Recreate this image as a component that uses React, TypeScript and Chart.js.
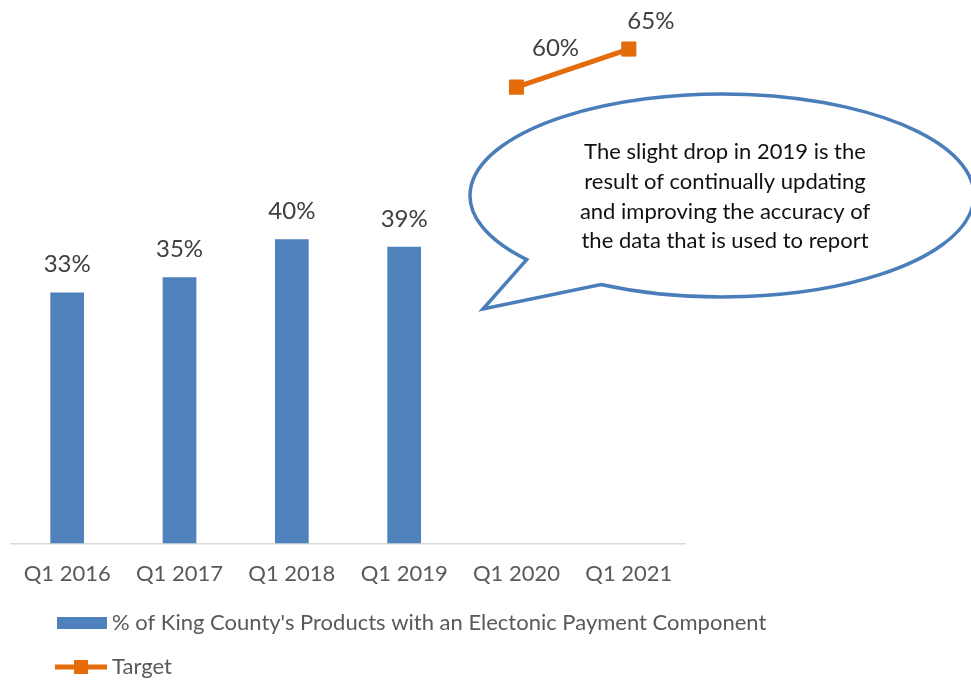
import React, { useEffect, useRef } from "react";
import { Chart, registerables } from "chart.js";

Chart.register(...registerables);

const categories = ["Q1 2016", "Q1 2017", "Q1 2018", "Q1 2019", "Q1 2020", "Q1 2021"];
const productValues = [33, 35, 40, 39, null, null];
const targetValues = [null, null, null, null, 60, 65];
const seriesNames = ["% of King County's Products with an Electonic Payment Component", "Target"];
const calloutLines = [
  "The slight drop in 2019 is the",
  "result of continually updating",
  "and improving the accuracy of",
  "the data that is used to report",
];

const BLUE = "#4F81BD";
const ORANGE = "#E46C0A";
const FONT = "Lato, 'Open Sans', sans-serif";

const overlayPlugin = {
  id: "overlay",
  afterDatasetsDraw(chart: any) {
    const ctx = chart.ctx as CanvasRenderingContext2D;
    ctx.save();
    // data labels
    ctx.font = `24px ${FONT}`;
    ctx.fillStyle = "#404040";
    ctx.textAlign = "center";
    ctx.textBaseline = "middle";
    const barMeta = chart.getDatasetMeta(0);
    barMeta.data.forEach((el: any, i: number) => {
      const v = productValues[i];
      if (v == null) return;
      ctx.fillText(`${v}%`, el.x, el.y - 28);
    });
    const lineMeta = chart.getDatasetMeta(1);
    const lineOffsets = [[0, 0], [0, 0], [0, 0], [0, 0], [39, -39], [22, -28]];
    lineMeta.data.forEach((el: any, i: number) => {
      const v = targetValues[i];
      if (v == null) return;
      ctx.fillText(`${v}%`, el.x + lineOffsets[i][0], el.y + lineOffsets[i][1]);
    });

    // legend
    ctx.textAlign = "left";
    ctx.font = `22px ${FONT}`;
    ctx.fillStyle = BLUE;
    ctx.fillRect(57, 617, 50, 12);
    ctx.fillStyle = "#595959";
    ctx.fillText(seriesNames[0], 112, 623);
    ctx.strokeStyle = ORANGE;
    ctx.lineWidth = 5;
    ctx.beginPath();
    ctx.moveTo(55, 667);
    ctx.lineTo(107, 667);
    ctx.stroke();
    ctx.fillStyle = ORANGE;
    ctx.fillRect(74, 660, 14, 14);
    ctx.fillStyle = "#595959";
    ctx.fillText(seriesNames[1], 112, 667);

    // callout bubble
    const cx = 722, cy = 195.5, rx = 252, ry = 101.5;
    const t1 = (140.8 * Math.PI) / 180;
    const t2 = (118.7 * Math.PI) / 180;
    ctx.beginPath();
    ctx.ellipse(cx, cy, rx, ry, 0, t1, t2, false);
    ctx.lineTo(483, 309);
    ctx.closePath();
    ctx.fillStyle = "#ffffff";
    ctx.fill();
    ctx.strokeStyle = "#4A7EBB";
    ctx.lineWidth = 3.5;
    ctx.lineJoin = "miter";
    ctx.stroke();

    ctx.fillStyle = "#111111";
    ctx.textAlign = "center";
    ctx.font = `22px ${FONT}`;
    const ys = [152, 182, 212, 241];
    calloutLines.forEach((l, i) => ctx.fillText(l, 725, ys[i]));
    ctx.restore();
  },
};

export default function App() {
  const ref = useRef<HTMLCanvasElement>(null);
  useEffect(() => {
    document.body.style.margin = "0";
    const chart = new Chart(ref.current!, {
      type: "bar",
      data: {
        labels: categories,
        datasets: [
          {
            type: "bar",
            label: seriesNames[0],
            data: productValues as any,
            backgroundColor: BLUE,
            barPercentage: 0.6,
            categoryPercentage: 0.5,
            order: 2,
          },
          {
            type: "line",
            label: seriesNames[1],
            data: targetValues as any,
            borderColor: ORANGE,
            backgroundColor: ORANGE,
            borderWidth: 5,
            pointStyle: "rect",
            pointRadius: 10,
            pointBorderWidth: 1,
            spanGaps: false,
            order: 1,
          } as any,
        ],
      },
      options: {
        animation: false,
        responsive: true,
        maintainAspectRatio: false,
        layout: { padding: { left: 10, right: 286, top: 10, bottom: 76 } },
        plugins: { legend: { display: false }, tooltip: { enabled: false } },
        scales: {
          x: {
            grid: { display: false, drawTicks: false },
            border: { display: true, color: "#D9D9D9", width: 1.5 },
            ticks: { font: { family: FONT, size: 22 }, color: "#595959", padding: 17 },
          },
          y: { display: false, min: 0, max: 70 },
        },
      },
      plugins: [overlayPlugin],
    });
    return () => chart.destroy();
  }, []);
  return (
    <div style={{ width: 971, height: 680, position: "relative" }}>
      <canvas ref={ref} />
    </div>
  );
}
